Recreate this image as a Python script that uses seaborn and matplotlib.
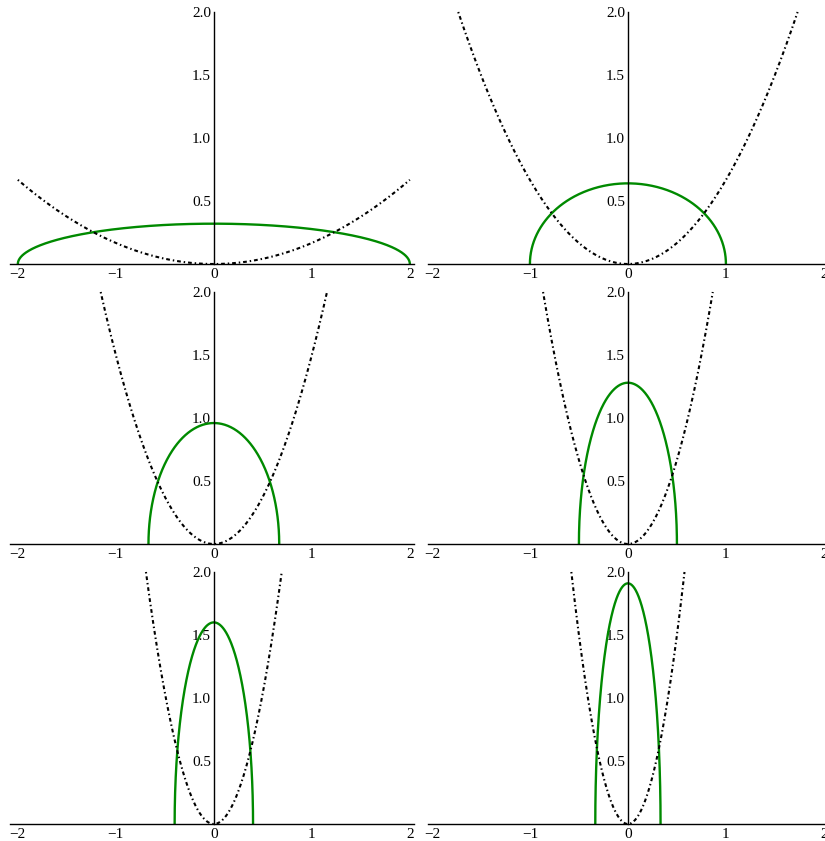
import numpy as np
import pandas as pd
import matplotlib.pyplot as plt
import seaborn as sns
from matplotlib.ticker import MultipleLocator

# One panel per n: semi-ellipse (green) and parabola (dotted black)
panel_n = [1, 2, 3, 4, 5, 6]
ellipse_half_width = [2.0, 1.0, 0.667, 0.5, 0.4, 0.333]
ellipse_peak = [0.32, 0.64, 0.96, 1.28, 1.60, 1.91]
parabola_coef = [0.167, 0.667, 1.5, 2.667, 4.167, 6.0]
x_ticks = [-2, -1, 0, 1, 2]
y_ticks = [0.5, 1.0, 1.5, 2.0]

sns.set_style("white")
plt.rcParams["font.family"] = ["Liberation Serif", "DejaVu Serif"]
plt.rcParams["font.size"] = 11

fig = plt.figure(figsize=(8.25, 8.41), dpi=100)
W, H = 825, 841
col_left = [10, 428]
col_xlim = [(-2.08, 2.04), (-2.04, 2.04)]
row_zero = [264, 544, 824]
px_x = 98.0
px_y = 126.0
ylim = (0, 2.02)

for i, n in enumerate(panel_n):
    r, c = divmod(i, 2)
    xlim = col_xlim[c]
    left = col_left[c]
    bottom = row_zero[r]
    w = (xlim[1] - xlim[0]) * px_x
    h = (ylim[1] - ylim[0]) * px_y
    ax = fig.add_axes([left / W, 1 - bottom / H, w / W, h / H])
    ax.set_facecolor("none")

    a = ellipse_half_width[i]
    t = np.linspace(-np.pi / 2, np.pi / 2, 400)
    ex = a * np.sin(t)
    ey = ellipse_peak[i] * np.cos(t)
    sns.lineplot(x=ex, y=ey, ax=ax, color="#008a00", lw=1.7, sort=False,
                 estimator=None)

    k = parabola_coef[i]
    xm = min(2.0, np.sqrt(2.0 / k))
    px = np.linspace(-xm, xm, 400)
    sns.lineplot(x=px, y=k * px ** 2, ax=ax, color="black", lw=1.5,
                 linestyle=(0, (0.7, 1.4, 1.8, 1.4)), sort=False,
                 estimator=None)

    ax.set_xlim(*xlim)
    ax.set_ylim(*ylim)
    for s in ["top", "right"]:
        ax.spines[s].set_visible(False)
    ax.spines["left"].set_position(("data", 0))
    ax.spines["bottom"].set_position(("data", 0))
    for s in ["left", "bottom"]:
        ax.spines[s].set_linewidth(1.0)
        ax.spines[s].set_color("black")
    ax.spines["left"].set_bounds(0, 2.0)

    ax.set_xticks(x_ticks)
    ax.set_xticklabels(["\u22122", "\u22121", "0", "1", "2"])
    ax.set_yticks(y_ticks)
    ax.set_yticklabels(["0.5", "1.0", "1.5", "2.0"])
    ax.xaxis.set_minor_locator(MultipleLocator(0.2))
    ax.yaxis.set_minor_locator(MultipleLocator(0.1))
    ax.tick_params(which="major", direction="in", length=4.5, width=0.8,
                   colors="black", pad=3)
    ax.tick_params(which="minor", direction="in", length=2.5, width=0.7,
                   colors="black")
    ax.tick_params(axis="y", pad=2)
    ax.set_xlabel("")
    ax.set_ylabel("")

fig.savefig("out.png", dpi=100)
